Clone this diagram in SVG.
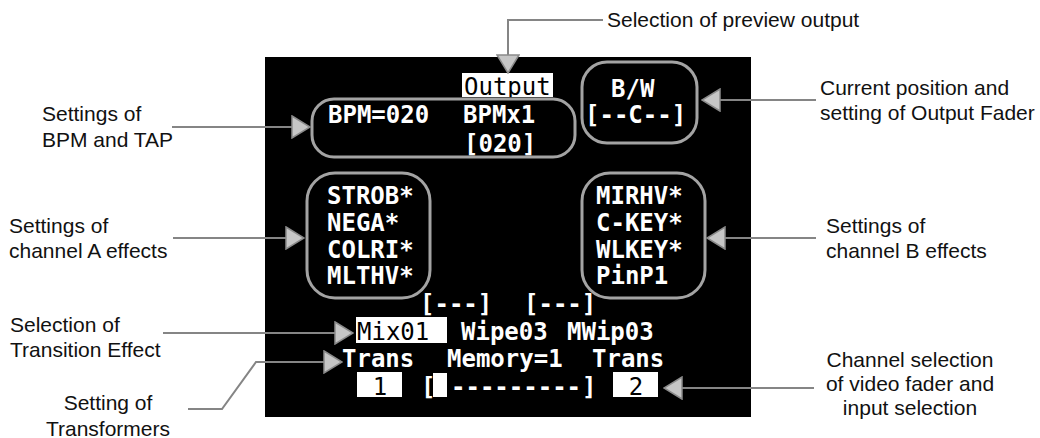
<svg xmlns="http://www.w3.org/2000/svg" width="1040" height="438" viewBox="0 0 1040 438">
<style>
.lbl{font-family:"Liberation Sans",Arial,sans-serif;font-size:21px;fill:#111}
.osd{font-family:"DejaVu Sans Mono",monospace;font-size:24px;font-weight:bold;fill:#fff}
.inv{font-family:"DejaVu Sans Mono",monospace;font-size:24px;fill:#000}
.box{fill:none;stroke:#a3a3a3;stroke-width:3}
.lead{fill:none;stroke:#858585;stroke-width:2;marker-end:url(#ah)}
</style>
<defs>
<marker id="ah" markerUnits="userSpaceOnUse" viewBox="0 0 20 24" refX="19" refY="12" markerWidth="20" markerHeight="24" orient="auto">
<polygon points="1,1 19,12 1,23" fill="#c6c6c6" stroke="#8a8a8a" stroke-width="1.5"/>
</marker>
</defs>
<rect width="1040" height="438" fill="#fff"/>
<g id="screen">
<rect x="265" y="57" width="486" height="360" fill="#000"/>
</g>
<g id="output-select">
<rect x="462" y="73" width="91" height="24" fill="#fff"/>
<text class="inv" x="464" y="95">Output</text>
</g>
<g id="bpm">
<rect class="box" x="312" y="99" width="263" height="58" rx="22"/>
<text class="osd" x="328" y="123">BPM=020</text>
<text class="osd" x="463" y="123">BPMx1</text>
<text class="osd" x="464" y="152">[020]</text>
</g>
<g id="output-fader">
<rect class="box" x="582" y="62" width="115" height="81" rx="25"/>
<text class="osd" x="611" y="97">B/W</text>
<text class="osd" x="585" y="123">[--C--]</text>
</g>
<g id="effects-a">
<rect class="box" x="307" y="173" width="123" height="125" rx="28"/>
<text class="osd" x="327" y="204">STROB*</text>
<text class="osd" x="327" y="231">NEGA*</text>
<text class="osd" x="327" y="258">COLRI*</text>
<text class="osd" x="327" y="284">MLTHV*</text>
</g>
<g id="effects-b">
<rect class="box" x="582" y="173" width="123" height="125" rx="28"/>
<text class="osd" x="596" y="204">MIRHV*</text>
<text class="osd" x="596" y="231">C-KEY*</text>
<text class="osd" x="596" y="258">WLKEY*</text>
<text class="osd" x="596" y="284">PinP1</text>
</g>
<g id="transition">
<text class="osd" x="420" y="312">[---]</text>
<text class="osd" x="524" y="312">[---]</text>
<rect x="356" y="317" width="91" height="26" fill="#fff"/>
<text class="inv" x="357" y="340">Mix01</text>
<text class="osd" x="461" y="340">Wipe03</text>
<text class="osd" x="567" y="340">MWip03</text>
</g>
<g id="transformers">
<text class="osd" x="342" y="367">Trans</text>
<text class="osd" x="447" y="367">Memory=1</text>
<text class="osd" x="592" y="367">Trans</text>
</g>
<g id="video-fader">
<rect x="357" y="372" width="45" height="25" fill="#fff"/>
<text class="inv" x="380" y="395" text-anchor="middle">1</text>
<text class="osd" x="421" y="395">[</text>
<rect x="433" y="373" width="14" height="24" fill="#fff"/>
<text class="osd" x="451" y="395">---------</text>
<text class="osd" x="582" y="395">]</text>
<rect x="613" y="372" width="45" height="25" fill="#fff"/>
<text class="inv" x="636" y="395" text-anchor="middle">2</text>
</g>
<g id="connectors">
<path class="lead" d="M603,20 H508 V73"/>
<path class="lead" d="M172,127 H310"/>
<path class="lead" d="M173,238 H304"/>
<path class="lead" d="M816,100 H702"/>
<path class="lead" d="M816,238 H707"/>
<path class="lead" d="M163,333 H353"/>
<path class="lead" d="M188,409 H222 L256,362 H342"/>
<path class="lead" d="M814,388 H664"/>
</g>
<g id="labels">
<text class="lbl" x="607" y="27">Selection of preview output</text>
<text class="lbl" x="42" y="121">Settings of</text>
<text class="lbl" x="42" y="147">BPM and TAP</text>
<text class="lbl" x="9" y="233">Settings of</text>
<text class="lbl" x="9" y="258">channel A effects</text>
<text class="lbl" x="820" y="95">Current position and</text>
<text class="lbl" x="820" y="120">setting of Output Fader</text>
<text class="lbl" x="826" y="233">Settings of</text>
<text class="lbl" x="826" y="258">channel B effects</text>
<text class="lbl" x="10" y="332">Selection of</text>
<text class="lbl" x="10" y="357">Transition Effect</text>
<text class="lbl" x="108" y="410" text-anchor="middle">Setting of</text>
<text class="lbl" x="108" y="436" text-anchor="middle">Transformers</text>
<text class="lbl" x="910" y="367" text-anchor="middle">Channel selection</text>
<text class="lbl" x="910" y="391" text-anchor="middle">of video fader and</text>
<text class="lbl" x="910" y="415" text-anchor="middle">input selection</text>
</g>
</svg>
